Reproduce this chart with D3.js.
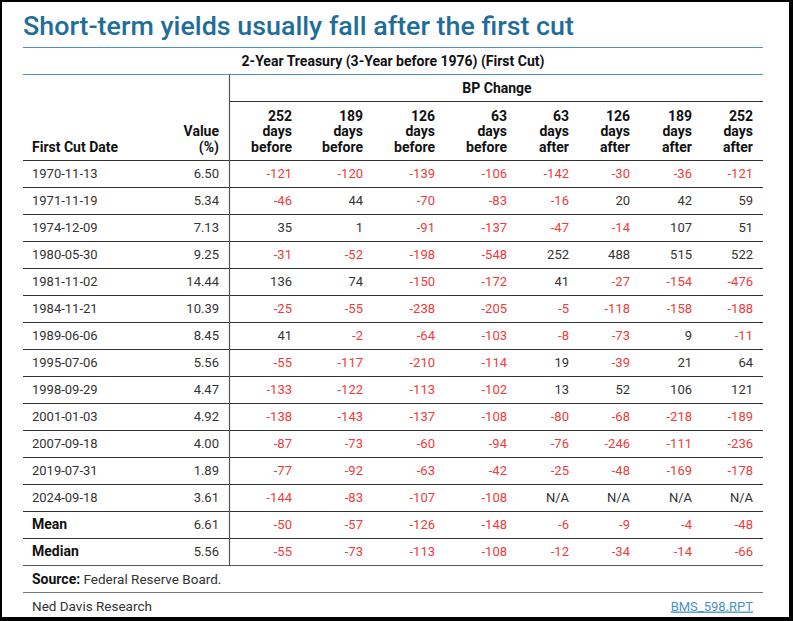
<!DOCTYPE html>
<html>
<head>
<meta charset="utf-8">
<script src="https://cdn.jsdelivr.net/npm/d3@7"></script>
<style>
  html, body { margin: 0; padding: 0; background: #000; }
  svg { display: block; }
  text { font-family: Roboto, "Noto Sans", sans-serif; }
</style>
</head>
<body>
<svg id="chart" width="793" height="621"></svg>
<script>
// ---------- DATA ----------
const title = "Short-term yields usually fall after the first cut";
const subtitle = "2-Year Treasury (3-Year before 1976) (First Cut)";
const groupLabel = "BP Change";
const rowLabels = ["1970-11-13","1971-11-19","1974-12-09","1980-05-30","1981-11-02","1984-11-21",
  "1989-06-06","1995-07-06","1998-09-29","2001-01-03","2007-09-18","2019-07-31","2024-09-18","Mean","Median"];
const values = ["6.50","5.34","7.13","9.25","14.44","10.39","8.45","5.56","4.47","4.92","4.00","1.89","3.61","6.61","5.56"];
const columnHeaders = [["252","days","before"],["189","days","before"],["126","days","before"],["63","days","before"],
  ["63","days","after"],["126","days","after"],["189","days","after"],["252","days","after"]];
const before252 = [-121,-46,35,-31,136,-25,41,-55,-133,-138,-87,-77,-144,-50,-55];
const before189 = [-120,44,1,-52,74,-55,-2,-117,-122,-143,-73,-92,-83,-57,-73];
const before126 = [-139,-70,-91,-198,-150,-238,-64,-210,-113,-137,-60,-63,-107,-126,-113];
const before63  = [-106,-83,-137,-548,-172,-205,-103,-114,-102,-108,-94,-42,-108,-148,-108];
const after63   = [-142,-16,-47,252,41,-5,-8,19,13,-80,-76,-25,null,-6,-12];
const after126  = [-30,20,-14,488,-27,-118,-73,-39,52,-68,-246,-48,null,-9,-34];
const after189  = [-36,42,107,515,-154,-158,9,21,106,-218,-111,-169,null,-4,-14];
const after252  = [-121,59,51,522,-476,-188,-11,64,121,-189,-236,-178,null,-48,-66];
const boldRows = ["Mean","Median"];
const sourceLabel = "Source:";
const sourceText = " Federal Reserve Board.";
const credit = "Ned Davis Research";
const reportId = "BMS_598.RPT";

const changeCols = [before252, before189, before126, before63, after63, after126, after189, after252];

// ---------- LAYOUT ----------
const svg = d3.select("#chart");
const left = 23, right = 763;
const blue = "#1f6d9b", lineBlue = "#4a93c4", red = "#ee3b3b", ink = "#333";
const boldSize = 14;

svg.append("rect").attr("x", 2).attr("y", 2).attr("width", 787).attr("height", 615).attr("fill", "#fff");

// title
svg.append("text").attr("x", left).attr("y", 34.5)
  .attr("fill", blue).attr("font-size", 25).attr("font-weight", 500)
  .attr("textLength", 551).attr("lengthAdjust", "spacingAndGlyphs")
  .text(title);

svg.append("line").attr("x1", left).attr("x2", right).attr("y1", 47.5).attr("y2", 47.5)
  .attr("stroke", lineBlue).attr("stroke-width", 1.2);
svg.append("text").attr("x", 393).attr("y", 61).attr("dy", "0.35em")
  .attr("text-anchor", "middle").attr("font-size", boldSize).attr("font-weight", 700).attr("fill", "#111")
  .text(subtitle);
svg.append("line").attr("x1", left).attr("x2", right).attr("y1", 74.5).attr("y2", 74.5)
  .attr("stroke", lineBlue).attr("stroke-width", 1.2);

// scales
const y = d3.scaleBand().domain(d3.range(rowLabels.length)).range([160, 565]);
const x = d3.scaleOrdinal().domain(d3.range(changeCols.length))
  .range([292, 363, 435, 507, 569, 630, 692, 753]);
const xDate = 32, xValue = 219, xDivider = 229;

// BP change group header
svg.append("text").attr("x", 497).attr("y", 88).attr("dy", "0.35em")
  .attr("text-anchor", "middle").attr("font-size", boldSize).attr("font-weight", 700).attr("fill", "#111")
  .text(groupLabel);
svg.append("line").attr("x1", xDivider).attr("x2", right).attr("y1", 101.5).attr("y2", 101.5)
  .attr("stroke", "#333").attr("stroke-width", 1);

// column headers
const headY = [116, 131.5, 147];
const hdr = svg.append("g").attr("font-size", boldSize).attr("font-weight", 700).attr("fill", "#111");
columnHeaders.forEach((lines, i) => {
  lines.forEach((s, j) => {
    hdr.append("text").attr("x", x(i)).attr("y", headY[j]).attr("dy", "0.35em")
      .attr("text-anchor", "end").text(s);
  });
});
hdr.append("text").attr("x", xValue).attr("y", headY[1]).attr("dy", "0.35em").attr("text-anchor", "end").text("Value");
hdr.append("text").attr("x", xValue).attr("y", headY[2]).attr("dy", "0.35em").attr("text-anchor", "end").text("(%)");
hdr.append("text").attr("x", xDate).attr("y", headY[2]).attr("dy", "0.35em").text("First Cut Date");

// row lines
const bounds = y.domain().map(i => y(i)).concat([y.range()[1]]);
svg.append("g").selectAll("line").data(bounds).join("line")
  .attr("x1", left).attr("x2", right)
  .attr("y1", d => Math.round(d) + 0.5).attr("y2", d => Math.round(d) + 0.5)
  .attr("stroke", (d, i) => i === bounds.length - 1 ? "#555" : "#333").attr("stroke-width", 1);

// vertical divider
svg.append("line").attr("x1", xDivider + 0.5).attr("x2", xDivider + 0.5)
  .attr("y1", 75).attr("y2", Math.round(y.range()[1]) + 0.5)
  .attr("stroke", "#555").attr("stroke-width", 1.2);

// body rows
const body = svg.append("g").attr("font-size", 13);
rowLabels.forEach((lab, r) => {
  const cy = y(r) + y.bandwidth() / 2;
  const isBold = boldRows.includes(lab);
  body.append("text").attr("x", xDate).attr("y", cy).attr("dy", "0.35em")
    .attr("font-size", isBold ? boldSize : 13)
    .attr("font-weight", isBold ? 700 : 400).attr("fill", isBold ? "#111" : ink).text(lab);
  body.append("text").attr("x", xValue).attr("y", cy).attr("dy", "0.35em")
    .attr("text-anchor", "end").attr("fill", ink).text(values[r]);
  changeCols.forEach((col, c) => {
    const v = col[r];
    body.append("text").attr("x", x(c)).attr("y", cy).attr("dy", "0.35em")
      .attr("text-anchor", "end")
      .attr("fill", v !== null && v < 0 ? red : ink)
      .text(v === null ? "N/A" : String(v));
  });
});

// footer
const srcY = 579, credY = 606;
const src = svg.append("text").attr("x", xDate).attr("y", srcY).attr("dy", "0.35em").attr("font-size", 13.5).attr("fill", ink);
src.append("tspan").attr("font-weight", 700).attr("font-size", boldSize).attr("fill", "#111").text(sourceLabel);
src.append("tspan").text(sourceText);
svg.append("line").attr("x1", left).attr("x2", right).attr("y1", 592.5).attr("y2", 592.5)
  .attr("stroke", "#777").attr("stroke-width", 1);
svg.append("text").attr("x", xDate).attr("y", credY).attr("dy", "0.35em").attr("font-size", 13.5)
  .attr("fill", ink).text(credit);
svg.append("text").attr("x", 753).attr("y", credY).attr("dy", "0.35em").attr("font-size", 13)
  .attr("text-anchor", "end").attr("fill", lineBlue).attr("text-decoration", "underline").text(reportId);
</script>
</body>
</html>
